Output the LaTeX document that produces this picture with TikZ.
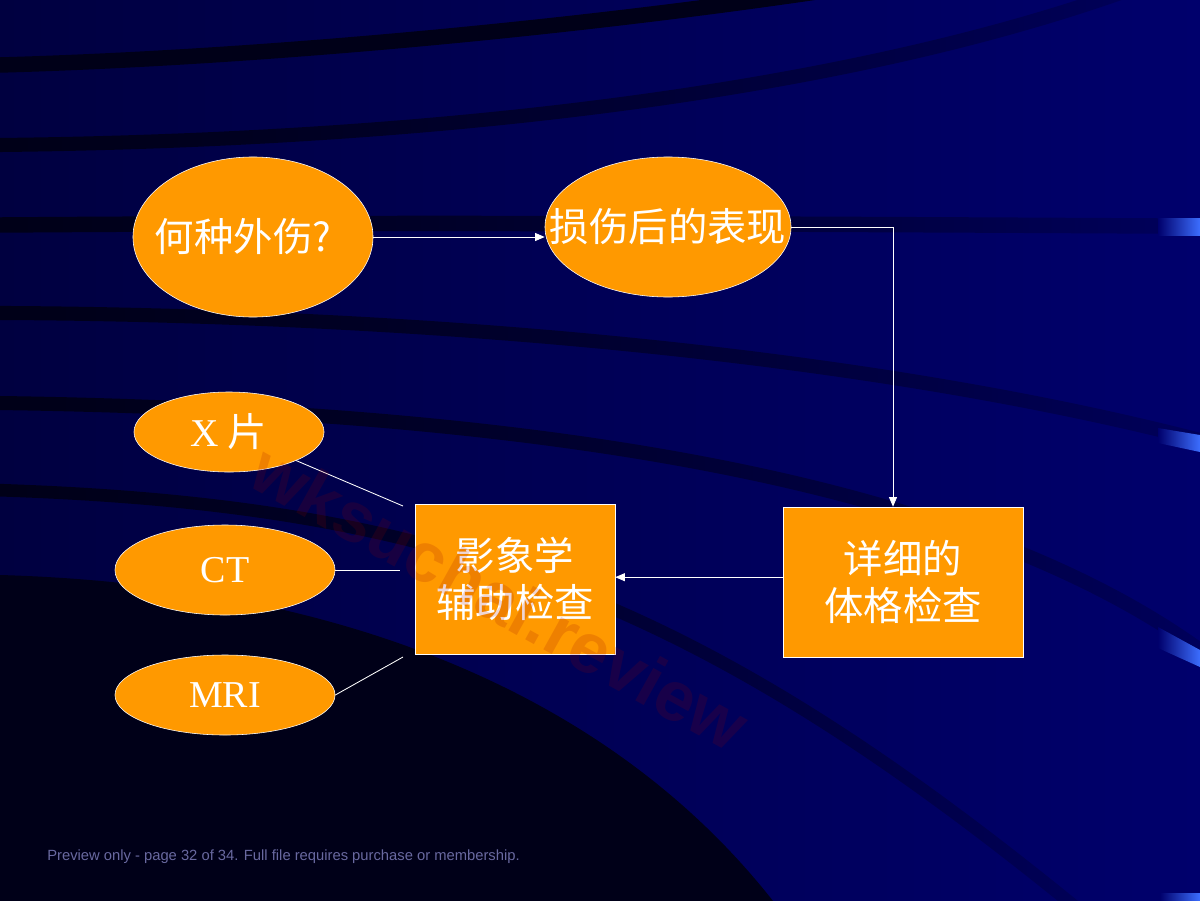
\documentclass[tikz,border=0pt]{standalone}
\usepackage{fontspec}
\usepackage{tikz}
\usetikzlibrary{arrows.meta,shapes.geometric,fadings}
\newfontfamily\cjk{Noto Sans CJK SC}
\newfontfamily\tnr{Liberation Serif}
\newfontfamily\arl{Liberation Sans}
\definecolor{slidebg}{RGB}{0,0,108}
\definecolor{slidedark}{RGB}{0,0,64}
\definecolor{bandc}{RGB}{0,0,24}
\definecolor{ribbon}{RGB}{60,110,255}
\definecolor{boxorange}{RGB}{255,153,0}
\definecolor{footgray}{RGB}{105,105,160}
\newcommand{\zw}[1]{\makebox[0pt]{#1}}
\tikzfading[name=fadeout, left color=transparent!0, right color=transparent!80]

\begin{document}
\begin{tikzpicture}[x=0.025cm, y=-0.025cm,
    every node/.style={text=white, font=\cjk\fontsize{28}{33}\selectfont},
    oval/.style={ellipse, draw=white, fill=boxorange, inner sep=0pt},
    panel/.style={rectangle, draw=white, fill=boxorange, align=center,
      minimum width=#1, minimum height=3.75cm, inner sep=0pt},
    latin/.style={font=\tnr\fontsize{27}{30}\selectfont},
    link/.style={draw=white, line width=0.6pt},
    flow/.style={link, -{Triangle[length=2.4mm,width=2mm]}},
    band/.style={draw=bandc, line width=#1, path fading=fadeout}]
    \useasboundingbox (0,0) rectangle (1200,900);
    % slide background
    \shade[left color=slidedark, right color=slidebg] (0,0) rectangle (1200,900);
    \draw[draw=bandc, line width=11pt] (0,65) .. controls (250,58) and (560,30) .. (830,-10);
    \draw[band=10pt] (0,145) .. controls (450,140) and (850,90) .. (1130,-10);
    \draw[band=11pt] (0,225) .. controls (400,222) and (800,224) .. (1160,226);
    \draw[band=10pt] (0,313) .. controls (400,315) and (850,350) .. (1200,440);
    \draw[band=10pt] (0,403) .. controls (500,410) and (950,470) .. (1200,650);
    \fill[bandc] (0,575) .. controls (350,585) and (620,700) .. (780,910) -- (0,910) -- cycle;
    \draw[band=9pt] (0,490) .. controls (450,505) and (700,600) .. (1080,910);
    \shade[left color=slidebg, right color=ribbon] (1158,218) rectangle (1200,235);
    \shade[left color=slidebg, right color=ribbon] (1158,428) -- (1200,435) -- (1200,452) -- (1158,443) -- cycle;
    \shade[left color=slidebg, right color=ribbon] (1158,627) -- (1200,650) -- (1200,667) -- (1158,648) -- cycle;
    \shade[left color=slidebg, right color=ribbon] (1160,893) rectangle (1200,900);

    % flow chart
    \node[oval, minimum width=6cm, minimum height=4cm] (injury) at (253,237) {\zw{何种外伤?\hspace{0.5cm}}};
    \node[oval, minimum width=6.15cm, minimum height=3.5cm] (signs) at (668,227) {\zw{损伤后的表现}};
    \node[panel=6cm] (exam) at (903,582) {详细的\\体格检查};
    \node[panel=5cm] (imaging) at (515,579) {影象学\\辅助检查};
    \node[oval, minimum width=4.75cm, minimum height=2cm] (xray) at (229,432) {\zw{{\tnr X} 片}};
    \node[oval, latin, minimum width=5.5cm, minimum height=2.25cm] (ct) at (225,570) {CT};
    \node[oval, latin, minimum width=5.5cm, minimum height=2cm] (mri) at (225,695) {MRI};
    \coordinate (xq) at (403,506);
    \coordinate (cq) at (400,570);
    \coordinate (mq) at (403,657);

    \draw[flow] (injury.east) -- (injury.east -| signs.west);
    \draw[flow] (signs.east) -| ([xshift=-0.25cm]exam.north);
    \draw[flow] ([yshift=0.12cm]exam.west) -- ([yshift=0.12cm]exam.west -| imaging.east);
    \draw[link] (xray) -- (xq);
    \draw[link] (ct) -- (cq);
    \draw[link] (mri.east) -- (mq);

    \node[rotate=-29, font=\arl\bfseries\fontsize{50}{50}\selectfont, text=red!60!black, opacity=0.16] (mark) at (500,597) {wksuchai.review};
    \node[anchor=base west, inner sep=0pt, font=\arl\fontsize{10.5}{12}\selectfont, text=footgray] (foot) at (47,860) {Preview only - page 32 of 34. Full file requires purchase or membership.};
\end{tikzpicture}
\end{document}
